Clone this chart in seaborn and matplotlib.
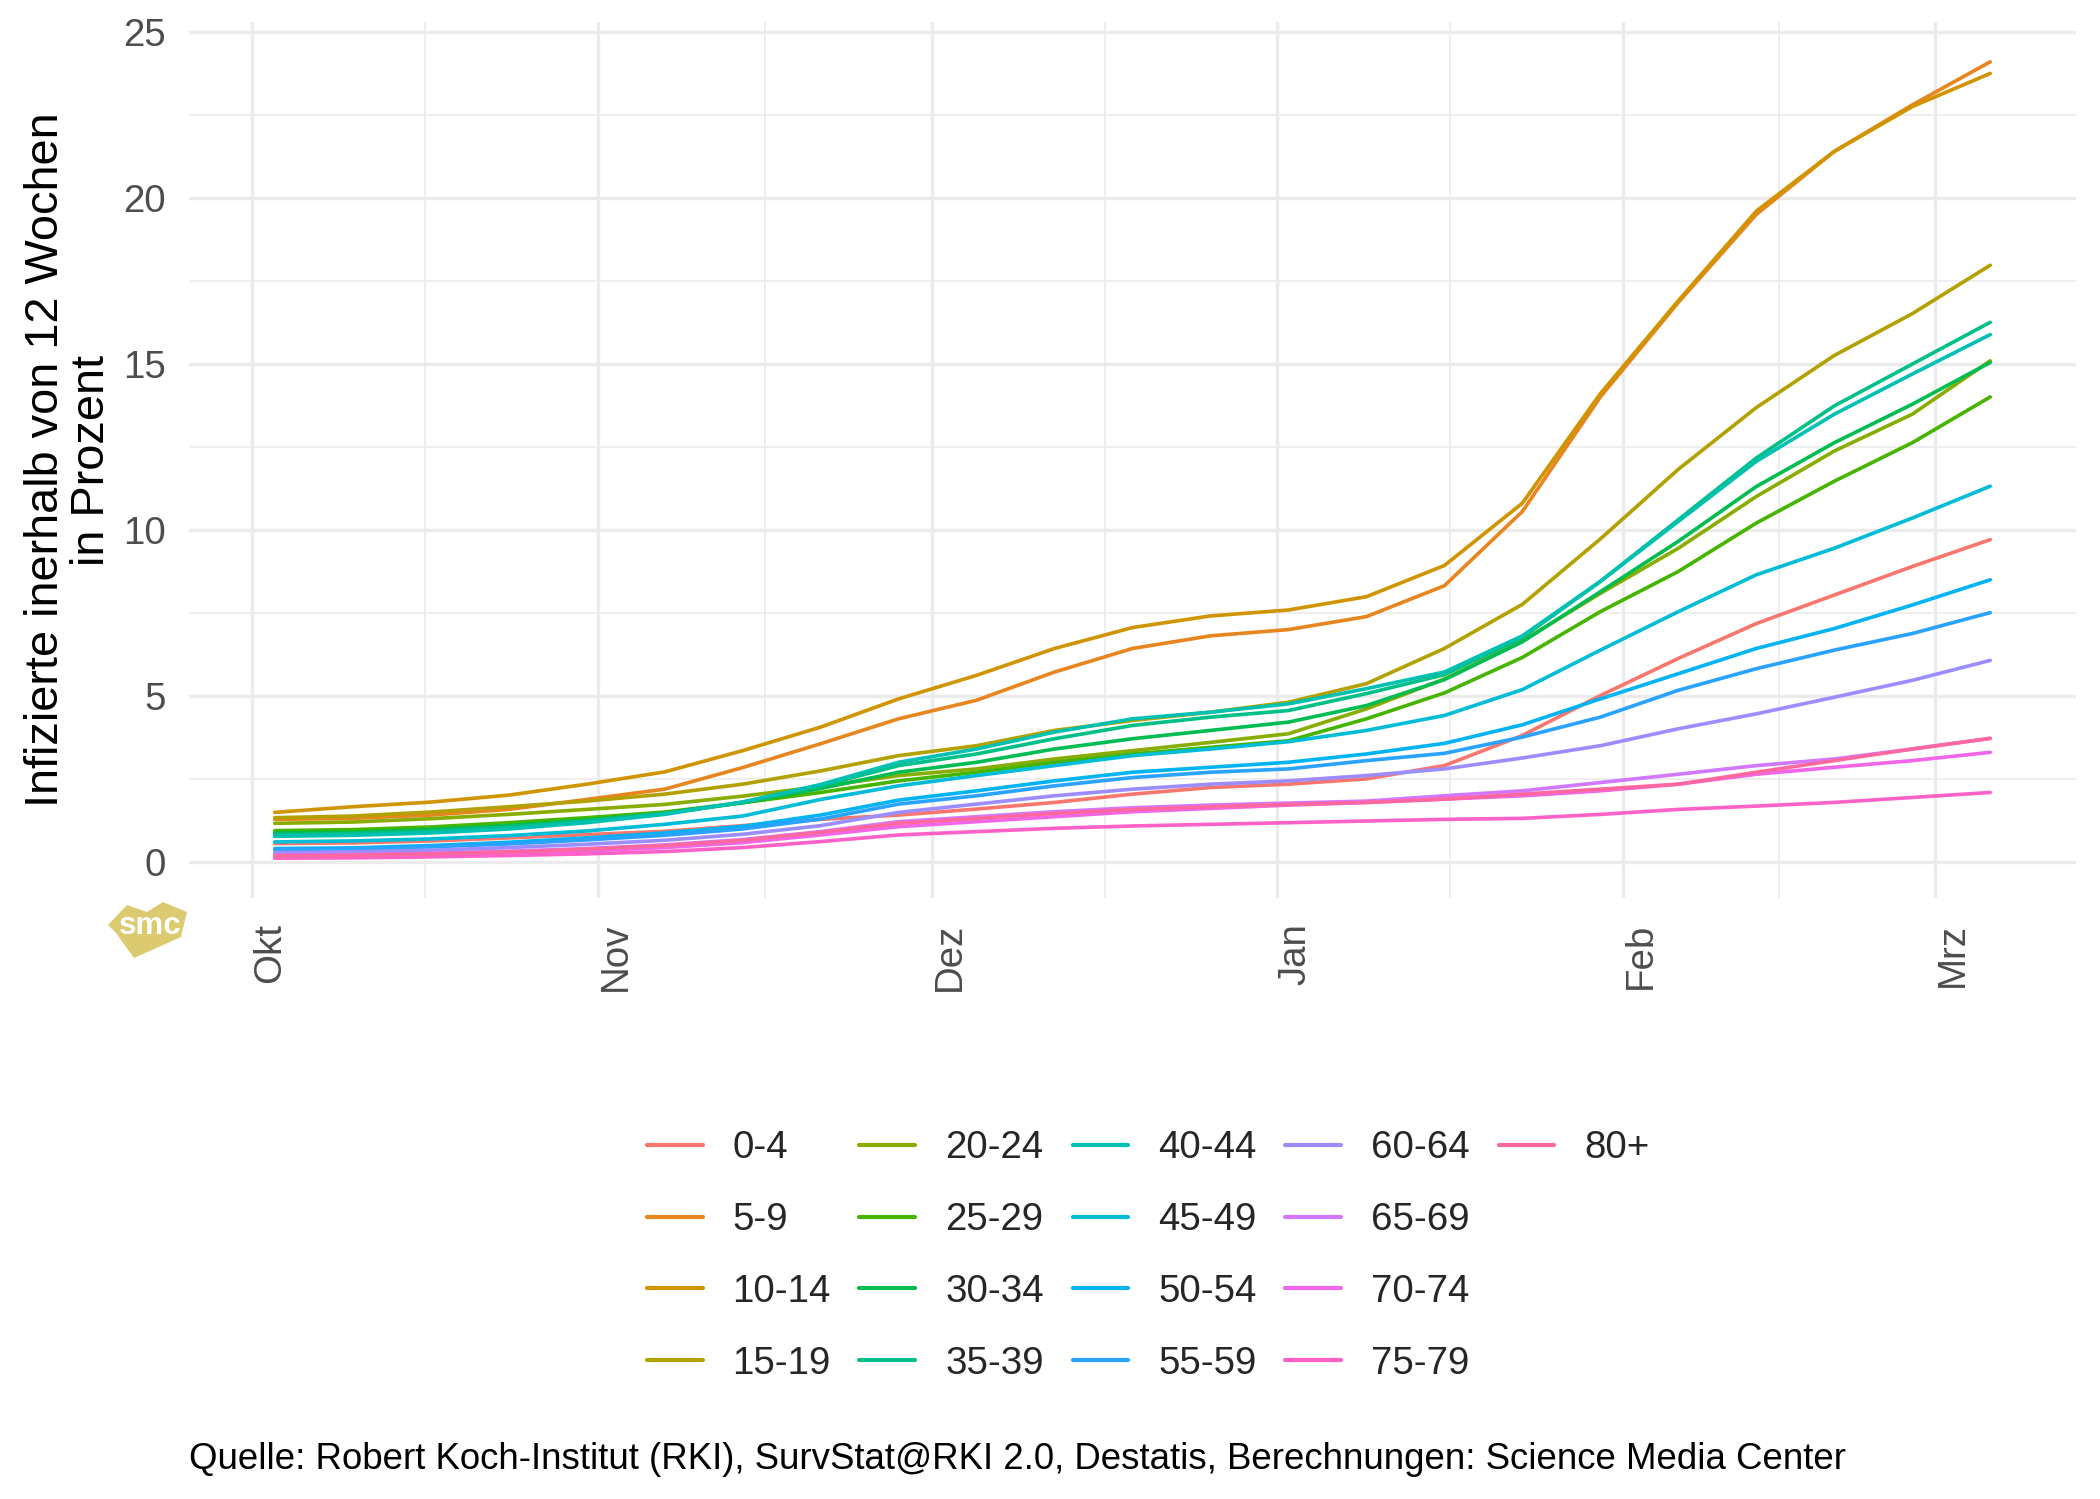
import math
import matplotlib
matplotlib.use("Agg")
import matplotlib.pyplot as plt
import matplotlib.dates as mdates
from matplotlib.lines import Line2D
from matplotlib.patches import Polygon
import numpy as np
import pandas as pd
import seaborn as sns

# ---------------- data ----------------
dates = ["2021-10-03", "2021-10-10", "2021-10-17", "2021-10-24", "2021-10-31",
         "2021-11-07", "2021-11-14", "2021-11-21", "2021-11-28", "2021-12-05",
         "2021-12-12", "2021-12-19", "2021-12-26", "2022-01-02", "2022-01-09",
         "2022-01-16", "2022-01-23", "2022-01-30", "2022-02-06", "2022-02-13",
         "2022-02-20", "2022-02-27", "2022-03-06"]

groups = ["0-4", "5-9", "10-14", "15-19", "20-24", "25-29", "30-34", "35-39",
          "40-44", "45-49", "50-54", "55-59", "60-64", "65-69", "70-74", "75-79", "80+"]

v_0_4 = [0.54, 0.56, 0.62, 0.71, 0.81, 0.91, 1.08, 1.27, 1.40, 1.58, 1.78, 2.03, 2.23, 2.33, 2.49, 2.89, 3.80, 5.00, 6.12, 7.17, 8.03, 8.89, 9.70]
v_5_9 = [1.27, 1.30, 1.40, 1.57, 1.87, 2.18, 2.83, 3.55, 4.30, 4.86, 5.71, 6.42, 6.80, 6.99, 7.38, 8.31, 10.55, 14.00, 16.85, 19.50, 21.40, 22.80, 24.10]
v_10_14 = [1.48, 1.65, 1.79, 2.00, 2.33, 2.70, 3.34, 4.05, 4.90, 5.61, 6.42, 7.05, 7.40, 7.58, 7.98, 8.92, 10.80, 14.10, 16.90, 19.60, 21.40, 22.75, 23.75]
v_15_19 = [1.32, 1.37, 1.49, 1.65, 1.82, 2.03, 2.33, 2.73, 3.19, 3.49, 3.95, 4.25, 4.50, 4.80, 5.36, 6.42, 7.75, 9.72, 11.82, 13.68, 15.25, 16.51, 17.97]
v_20_24 = [1.15, 1.19, 1.29, 1.42, 1.57, 1.72, 1.97, 2.26, 2.59, 2.79, 3.09, 3.34, 3.59, 3.85, 4.60, 5.50, 6.65, 8.08, 9.44, 11.00, 12.37, 13.48, 15.09]
v_25_29 = [0.93, 0.96, 1.04, 1.17, 1.32, 1.49, 1.77, 2.08, 2.43, 2.69, 2.99, 3.24, 3.44, 3.64, 4.30, 5.08, 6.15, 7.53, 8.74, 10.20, 11.46, 12.62, 14.00]
v_30_34 = [0.86, 0.88, 0.96, 1.08, 1.25, 1.45, 1.77, 2.20, 2.69, 2.99, 3.39, 3.70, 3.95, 4.20, 4.70, 5.48, 6.62, 8.13, 9.65, 11.30, 12.62, 13.78, 15.04]
v_35_39 = [0.81, 0.84, 0.91, 1.04, 1.22, 1.45, 1.79, 2.28, 2.89, 3.24, 3.70, 4.10, 4.35, 4.55, 5.06, 5.63, 6.75, 8.44, 10.30, 12.16, 13.73, 14.99, 16.25]
v_40_44 = [0.76, 0.79, 0.86, 0.98, 1.17, 1.42, 1.79, 2.32, 2.99, 3.39, 3.90, 4.30, 4.50, 4.75, 5.21, 5.71, 6.80, 8.44, 10.25, 12.06, 13.48, 14.69, 15.88]
v_45_49 = [0.59, 0.62, 0.68, 0.78, 0.92, 1.12, 1.37, 1.87, 2.28, 2.59, 2.89, 3.19, 3.39, 3.61, 3.95, 4.40, 5.18, 6.37, 7.53, 8.64, 9.44, 10.35, 11.31]
v_50_54 = [0.39, 0.41, 0.48, 0.58, 0.71, 0.86, 1.06, 1.40, 1.85, 2.13, 2.43, 2.69, 2.84, 2.99, 3.24, 3.56, 4.12, 4.90, 5.66, 6.42, 7.02, 7.73, 8.49]
v_55_59 = [0.36, 0.38, 0.44, 0.53, 0.65, 0.79, 0.98, 1.28, 1.73, 1.98, 2.28, 2.53, 2.69, 2.79, 3.04, 3.26, 3.75, 4.35, 5.16, 5.81, 6.37, 6.87, 7.50]
v_60_64 = [0.27, 0.29, 0.34, 0.42, 0.52, 0.64, 0.82, 1.08, 1.48, 1.73, 1.98, 2.18, 2.33, 2.43, 2.59, 2.79, 3.12, 3.49, 4.00, 4.45, 4.95, 5.46, 6.06]
v_65_69 = [0.20, 0.21, 0.25, 0.31, 0.39, 0.50, 0.66, 0.90, 1.20, 1.35, 1.50, 1.62, 1.70, 1.76, 1.82, 1.98, 2.13, 2.38, 2.63, 2.89, 3.09, 3.39, 3.71]
v_70_74 = [0.15, 0.16, 0.20, 0.25, 0.32, 0.42, 0.57, 0.80, 1.05, 1.20, 1.35, 1.50, 1.60, 1.70, 1.78, 1.88, 1.98, 2.13, 2.33, 2.63, 2.84, 3.04, 3.29]
v_75_79 = [0.10, 0.11, 0.14, 0.18, 0.23, 0.30, 0.42, 0.60, 0.80, 0.90, 1.00, 1.07, 1.12, 1.17, 1.22, 1.27, 1.30, 1.42, 1.57, 1.67, 1.78, 1.93, 2.08]
v_80p = [0.17, 0.19, 0.23, 0.29, 0.37, 0.48, 0.64, 0.88, 1.15, 1.30, 1.45, 1.57, 1.65, 1.72, 1.78, 1.88, 2.03, 2.18, 2.33, 2.69, 3.04, 3.39, 3.71]

month_ticks = ["2021-10-01", "2021-11-01", "2021-12-01", "2022-01-01", "2022-02-01", "2022-03-01"]
month_labels = ["Okt", "Nov", "Dez", "Jan", "Feb", "Mrz"]
y_ticks = [0, 5, 10, 15, 20, 25]

y_title = "Infizierte inerhalb von 12 Wochen\nin Prozent"
caption = "Quelle: Robert Koch-Institut (RKI), SurvStat@RKI 2.0, Destatis, Berechnungen: Science Media Center"

series = [v_0_4, v_5_9, v_10_14, v_15_19, v_20_24, v_25_29, v_30_34, v_35_39, v_40_44,
          v_45_49, v_50_54, v_55_59, v_60_64, v_65_69, v_70_74, v_75_79, v_80p]

df = pd.DataFrame({
    "Datum": pd.to_datetime(dates * len(groups)),
    "Gruppe": [g for g in groups for _ in dates],
    "Wert": [v for s in series for v in s],
})


# ggplot2 default hue palette (HCL, l=65, c=100)
def hcl_hex(h, c=100.0, l=65.0):
    wx, wy, wz = 95.047, 100.0, 108.883
    hr = math.radians(h)
    U, V = c * math.cos(hr), c * math.sin(hr)
    Y = wy * ((l + 16) / 116) ** 3 if l > 7.999592 else wy * l / 903.3
    t = wx + wy + wz
    x, y = wx / t, wy / t
    uN = 2 * x / (6 * y - x + 1.5)
    vN = 4.5 * y / (6 * y - x + 1.5)
    u = U / (13 * l) + uN
    v = V / (13 * l) + vN
    X = 9.0 * Y * u / (4 * v)
    Z = -X / 3 - 5 * Y + 3 * Y / v
    r = (3.240479 * X - 1.537150 * Y - 0.498535 * Z) / wy
    g = (-0.969256 * X + 1.875992 * Y + 0.041556 * Z) / wy
    b = (0.055648 * X - 0.204043 * Y + 1.057311 * Z) / wy

    def gam(c_):
        c_ = 12.92 * c_ if c_ <= 0.0031308 else 1.055 * c_ ** (1 / 2.4) - 0.055
        return min(max(c_, 0.0), 1.0)

    return "#%02X%02X%02X" % tuple(int(round(gam(k) * 255)) for k in (r, g, b))


n = len(groups)
hues = np.linspace(15, 375, n + 1)[:n]
palette = [hcl_hex(h % 360) for h in hues]

# ---------------- figure ----------------
sns.set_theme(style="white")
plt.rcParams["font.family"] = ["Liberation Sans", "DejaVu Sans"]

W, H, DPI = 2100, 1499, 150
fig = plt.figure(figsize=(W / DPI, H / DPI), dpi=DPI, facecolor="white")
L, R, T, B = 189, 2076, 22, 898
ax = fig.add_axes([L / W, 1 - B / H, (R - L) / W, (B - T) / H])

sns.lineplot(data=df, x="Datum", y="Wert", hue="Gruppe", hue_order=groups,
             palette=palette, estimator=None, linewidth=1.75, legend=False, ax=ax)

# scales with ggplot-like 5% expansion
d = mdates.date2num(df["Datum"])
dx = 0.05 * (d.max() - d.min())
ax.set_xlim(d.min() - dx, d.max() + dx)
ymin, ymax = df["Wert"].min(), df["Wert"].max()
dy = 0.05 * (ymax - ymin)
ax.set_ylim(ymin - dy, ymax + dy)

maj = mdates.date2num(pd.to_datetime(month_ticks))
ax.set_xticks(maj)
ax.set_xticks((maj[:-1] + maj[1:]) / 2, minor=True)
ax.set_xticklabels(month_labels, rotation=90, ha="left", va="top")
ax.set_yticks(y_ticks)
ax.set_yticks([(a + b) / 2 for a, b in zip(y_ticks[:-1], y_ticks[1:])], minor=True)
ax.set_yticklabels([str(t) for t in y_ticks])

ax.set_axisbelow(True)
ax.grid(True, which="major", color="#EBEBEB", linewidth=1.6)
ax.grid(True, which="minor", color="#EBEBEB", linewidth=0.8)
for s in ax.spines.values():
    s.set_visible(False)
ax.tick_params(axis="both", which="both", length=0)
ax.tick_params(axis="y", labelsize=18.5, labelcolor="#4D4D4D", pad=11)
ax.tick_params(axis="x", labelsize=18.5, labelcolor="#4D4D4D", pad=12)

ax.set_xlabel("")
ax.set_ylabel(y_title, fontsize=22.5, color="black", linespacing=1.08,
              ha="center", va="center")
ax.yaxis.set_label_coords((69 - L) / (R - L), 0.5)

# legend: 5 columns x 4 rows, filled column-wise like ggplot
handles = [Line2D([], [], color=c, linewidth=2.0) for c in palette]
labels = list(groups)
for _ in range(20 - len(groups)):
    handles.append(Line2D([], [], color="none"))
    labels.append("")
fig.legend(handles, labels, ncol=5, loc="center",
           bbox_to_anchor=(1148 / W, 1 - 1256 / H), frameon=False,
           fontsize=18.5, handlelength=1.45, handletextpad=0.77,
           columnspacing=0.75, labelspacing=0.93, borderpad=0, borderaxespad=0)

fig.text(L / W, 1 - 1469 / H, caption, ha="left", va="baseline",
         fontsize=17.6, color="black")

# small SMC logo mark
logo_px = [(108, 925), (127, 905), (147, 912), (163, 902), (187, 912),
           (181, 937), (134, 958), (116, 933)]
fig.patches.append(Polygon([(x / W, 1 - y / H) for x, y in logo_px], closed=True,
                           transform=fig.transFigure, facecolor="#D9C560",
                           edgecolor="none", alpha=0.9))
fig.text(150 / W, 1 - 926 / H, "smc", color="white", fontsize=15,
         fontweight="bold", ha="center", va="center")

fig.savefig("out.png", dpi=DPI, facecolor="white")
